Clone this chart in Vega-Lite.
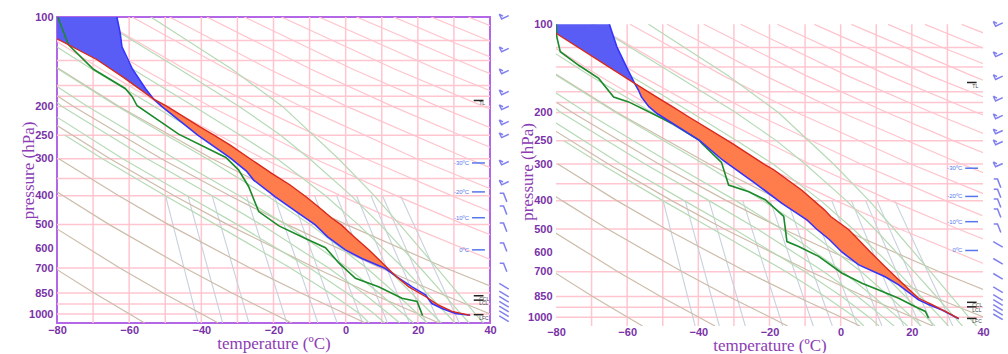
{
"$schema": "https://vega.github.io/schema/vega-lite/v6.json",
"background": "white",
"padding": {"left": 18, "top": 10, "right": 0, "bottom": 0},
"config": {
  "view": {"stroke": "#b366e6", "strokeWidth": 2},
  "axis": {"grid": false, "ticks": false, "domain": false, "labelFont": "Liberation Sans", "labelFontWeight": "bold", "labelFontSize": 11, "labelColor": "#7a32a8", "titleFont": "Liberation Serif", "titleFontWeight": "normal", "titleFontSize": 17, "titleColor": "#8c3cb4"}
},
"datasets": {
  "vgrid": [{"t":-70},{"t":-60},{"t":-50},{"t":-40},{"t":-30},{"t":-20},{"t":-10},{"t":0},{"t":10},{"t":20},{"t":30}],
  "hgrid": [{"p":120},{"p":140},{"p":170},{"p":185},{"p":200},{"p":250},{"p":300},{"p":350},{"p":400},{"p":500},{"p":700},{"p":850},{"p":925},{"p":1000}],
  "dry": [
    {"id":-60,"c":"tan","p":1072,"t":-55.7},{"id":-60,"c":"tan","p":850,"t":-69.7},{"id":-60,"c":"tan","p":700,"t":-80.7},
    {"id":-40,"c":"tan","p":1072,"t":-35.3},{"id":-40,"c":"tan","p":850,"t":-50.6},{"id":-40,"c":"tan","p":700,"t":-62.6},{"id":-40,"c":"tan","p":500,"t":-81.9},
    {"id":-20,"c":"tan","p":1072,"t":-14.9},{"id":-20,"c":"tan","p":850,"t":-31.5},{"id":-20,"c":"tan","p":700,"t":-44.5},{"id":-20,"c":"tan","p":500,"t":-65.5},{"id":-20,"c":"tan","p":400,"t":-78.3},{"id":-20,"c":"tan","p":380,"t":-81.1},
    {"id":0,"c":"tan","p":1072,"t":5.5},{"id":0,"c":"tan","p":850,"t":-12.4},{"id":0,"c":"tan","p":700,"t":-26.5},{"id":0,"c":"tan","p":500,"t":-49.1},{"id":0,"c":"tan","p":400,"t":-62.9},{"id":0,"c":"tan","p":300,"t":-79.5},
    {"id":20,"c":"tan","p":1072,"t":25.9},{"id":20,"c":"tan","p":850,"t":6.7},{"id":20,"c":"tan","p":700,"t":-8.4},{"id":20,"c":"tan","p":500,"t":-32.7},{"id":20,"c":"tan","p":400,"t":-47.5},{"id":20,"c":"tan","p":300,"t":-65.3},{"id":20,"c":"tan","p":230,"t":-80.5},
    {"id":40,"c":"tan","p":1072,"t":46.3},{"id":40,"c":"tan","p":850,"t":25.8},{"id":40,"c":"tan","p":700,"t":9.7},{"id":40,"c":"tan","p":500,"t":-16.2},{"id":40,"c":"tan","p":400,"t":-32.1},{"id":40,"c":"tan","p":300,"t":-51.1},{"id":40,"c":"tan","p":200,"t":-75.4},{"id":40,"c":"tan","p":185,"t":-79.8},
    {"id":60,"c":"tan","p":850,"t":44.9},{"id":60,"c":"tan","p":700,"t":27.7},{"id":60,"c":"tan","p":500,"t":0.2},{"id":60,"c":"tan","p":400,"t":-16.7},{"id":60,"c":"tan","p":300,"t":-37},{"id":60,"c":"tan","p":200,"t":-62.8},{"id":60,"c":"tan","p":148,"t":-80},
    {"id":80,"c":"pink","p":700,"t":45.8},{"id":80,"c":"pink","p":500,"t":16.6},{"id":80,"c":"pink","p":400,"t":-1.3},{"id":80,"c":"pink","p":300,"t":-22.8},{"id":80,"c":"pink","p":200,"t":-50.2},{"id":80,"c":"pink","p":150,"t":-67.8},{"id":80,"c":"pink","p":121,"t":-80},
    {"id":100,"c":"pink","p":600,"t":49.3},{"id":100,"c":"pink","p":500,"t":33},{"id":100,"c":"pink","p":400,"t":14.1},{"id":100,"c":"pink","p":300,"t":-8.6},{"id":100,"c":"pink","p":200,"t":-37.5},{"id":100,"c":"pink","p":150,"t":-56.1},{"id":100,"c":"pink","p":100,"t":-79.9},
    {"id":120,"c":"pink","p":450,"t":39.8},{"id":120,"c":"pink","p":400,"t":29.5},{"id":120,"c":"pink","p":300,"t":5.6},{"id":120,"c":"pink","p":200,"t":-24.9},{"id":120,"c":"pink","p":150,"t":-44.5},{"id":120,"c":"pink","p":100,"t":-69.5},
    {"id":140,"c":"pink","p":400,"t":44.9},{"id":140,"c":"pink","p":300,"t":19.7},{"id":140,"c":"pink","p":200,"t":-12.3},{"id":140,"c":"pink","p":150,"t":-32.9},{"id":140,"c":"pink","p":100,"t":-59.2},
    {"id":160,"c":"pink","p":350,"t":47.7},{"id":160,"c":"pink","p":300,"t":33.9},{"id":160,"c":"pink","p":200,"t":0.3},{"id":160,"c":"pink","p":150,"t":-21.2},{"id":160,"c":"pink","p":100,"t":-48.8},
    {"id":180,"c":"pink","p":300,"t":48.1},{"id":180,"c":"pink","p":250,"t":31.8},{"id":180,"c":"pink","p":200,"t":13},{"id":180,"c":"pink","p":150,"t":-9.6},{"id":180,"c":"pink","p":100,"t":-38.5},
    {"id":200,"c":"pink","p":250,"t":45.2},{"id":200,"c":"pink","p":200,"t":25.6},{"id":200,"c":"pink","p":150,"t":2},{"id":200,"c":"pink","p":100,"t":-28.1},
    {"id":220,"c":"pink","p":250,"t":58.7},{"id":220,"c":"pink","p":200,"t":38.2},{"id":220,"c":"pink","p":150,"t":13.7},{"id":220,"c":"pink","p":100,"t":-17.8},
    {"id":240,"c":"pink","p":200,"t":50.9},{"id":240,"c":"pink","p":150,"t":25.3},{"id":240,"c":"pink","p":100,"t":-7.4},
    {"id":260,"c":"pink","p":200,"t":63.5},{"id":260,"c":"pink","p":150,"t":37},{"id":260,"c":"pink","p":100,"t":3},
    {"id":280,"c":"pink","p":150,"t":48.6},{"id":280,"c":"pink","p":120,"t":28.6},{"id":280,"c":"pink","p":100,"t":13.3},
    {"id":300,"c":"pink","p":150,"t":60.2},{"id":300,"c":"pink","p":120,"t":39.6},{"id":300,"c":"pink","p":100,"t":23.7},
    {"id":320,"c":"pink","p":120,"t":50.5},{"id":320,"c":"pink","p":100,"t":34}
  ],
  "moist": [
    {"id":4,"p":1072,"t":6.5},{"id":4,"p":1000,"t":4},{"id":4,"p":850,"t":-4.4},{"id":4,"p":700,"t":-15.3},{"id":4,"p":500,"t":-36},{"id":4,"p":400,"t":-50},{"id":4,"p":300,"t":-67.4},{"id":4,"p":250,"t":-77.8},
    {"id":8,"p":1072,"t":10.8},{"id":8,"p":1000,"t":8},{"id":8,"p":850,"t":0.3},{"id":8,"p":700,"t":-10},{"id":8,"p":500,"t":-30},{"id":8,"p":400,"t":-44},{"id":8,"p":300,"t":-61.8},{"id":8,"p":200,"t":-84.7},
    {"id":12,"p":1072,"t":15},{"id":12,"p":1000,"t":12},{"id":12,"p":850,"t":4.8},{"id":12,"p":700,"t":-4.7},{"id":12,"p":500,"t":-23.4},{"id":12,"p":400,"t":-37},{"id":12,"p":300,"t":-55},{"id":12,"p":200,"t":-78.6},{"id":12,"p":190,"t":-81},
    {"id":16,"p":1072,"t":18.8},{"id":16,"p":1000,"t":16},{"id":16,"p":850,"t":9.2},{"id":16,"p":700,"t":0.65},{"id":16,"p":500,"t":-16.6},{"id":16,"p":400,"t":-29.5},{"id":16,"p":300,"t":-47.3},{"id":16,"p":200,"t":-71.5},{"id":16,"p":150,"t":-87.4},
    {"id":20,"p":1072,"t":22.6},{"id":20,"p":1000,"t":20},{"id":20,"p":850,"t":13.7},{"id":20,"p":700,"t":5.8},{"id":20,"p":500,"t":-9.8},{"id":20,"p":400,"t":-21.8},{"id":20,"p":300,"t":-38.4},{"id":20,"p":250,"t":-49.7},{"id":20,"p":200,"t":-63.2},{"id":20,"p":150,"t":-79.6},{"id":20,"p":130,"t":-87.4},
    {"id":24,"p":1072,"t":26.5},{"id":24,"p":1000,"t":24},{"id":24,"p":850,"t":18.2},{"id":24,"p":700,"t":11.4},{"id":24,"p":500,"t":-2.9},{"id":24,"p":400,"t":-13.3},{"id":24,"p":300,"t":-29},{"id":24,"p":250,"t":-39.6},{"id":24,"p":200,"t":-53},{"id":24,"p":150,"t":-70.3},{"id":24,"p":120,"t":-82.8},
    {"id":28,"p":1072,"t":30.3},{"id":28,"p":1000,"t":28},{"id":28,"p":850,"t":22.5},{"id":28,"p":700,"t":16},{"id":28,"p":500,"t":3.5},{"id":28,"p":400,"t":-5.6},{"id":28,"p":300,"t":-19},{"id":28,"p":250,"t":-29.2},{"id":28,"p":200,"t":-42},{"id":28,"p":150,"t":-59},{"id":28,"p":100,"t":-82.2},
    {"id":32,"p":1072,"t":34.2},{"id":32,"p":1000,"t":32},{"id":32,"p":850,"t":26.9},{"id":32,"p":700,"t":20.7},{"id":32,"p":500,"t":9.6},{"id":32,"p":400,"t":1.6},{"id":32,"p":300,"t":-10},{"id":32,"p":250,"t":-18},{"id":32,"p":200,"t":-29.5},{"id":32,"p":150,"t":-46},{"id":32,"p":100,"t":-69.7},
    {"id":36,"p":1072,"t":38.2},{"id":36,"p":1000,"t":36},{"id":36,"p":850,"t":31.1},{"id":36,"p":700,"t":25.3},{"id":36,"p":500,"t":15},{"id":36,"p":400,"t":8},{"id":36,"p":300,"t":-2},{"id":36,"p":200,"t":-17.5},{"id":36,"p":150,"t":-31.5},{"id":36,"p":100,"t":-54}
  ],
  "mix": [
    {"id":0.1,"p":400,"t":-49.9},{"id":0.1,"p":1072,"t":-40.9},
    {"id":0.2,"p":400,"t":-43.7},{"id":0.2,"p":1072,"t":-34.1},
    {"id":0.4,"p":400,"t":-37},{"id":0.4,"p":1072,"t":-26.8},
    {"id":1,"p":400,"t":-27.5},{"id":1,"p":1072,"t":-16.3},
    {"id":2,"p":400,"t":-19.8},{"id":2,"p":1072,"t":-7.7},
    {"id":3,"p":400,"t":-15},{"id":3,"p":1072,"t":-2.35},
    {"id":5,"p":400,"t":-8.6},{"id":5,"p":1072,"t":4.7},
    {"id":8,"p":400,"t":-2.5},{"id":8,"p":1072,"t":11.6},
    {"id":12,"p":400,"t":3},{"id":12,"p":1072,"t":17.7},
    {"id":16,"p":400,"t":7},{"id":16,"p":1072,"t":22.3},
    {"id":20,"p":400,"t":10.2},{"id":20,"p":1072,"t":25.9},
    {"id":28,"p":400,"t":15.2},{"id":28,"p":1072,"t":31.5}
  ],
  "envA": [{"p":100,"t":-63.4},{"p":113,"t":-62.5},{"p":126,"t":-62},{"p":149,"t":-59.2},{"p":174,"t":-55.5},{"p":189,"t":-53.2},{"p":200,"t":-51},{"p":250,"t":-41},{"p":298,"t":-32},{"p":330,"t":-27.5},{"p":354,"t":-25.5},{"p":403,"t":-19.5},{"p":458,"t":-13},{"p":500,"t":-8.5},{"p":550,"t":-5},{"p":608,"t":-0.1},{"p":650,"t":4.5},{"p":703,"t":11},{"p":750,"t":14.2},{"p":810,"t":18.4},{"p":862,"t":22.1},{"p":922,"t":23.9},{"p":958,"t":26.7},{"p":996,"t":30.4},{"p":1010,"t":34.5}],
  "parA": [{"p":118.4,"t":-80},{"p":139,"t":-69},{"p":160,"t":-61.5},{"p":189,"t":-53.2},{"p":200,"t":-49.5},{"p":234,"t":-40.5},{"p":250,"t":-36.5},{"p":270,"t":-32},{"p":300,"t":-26.5},{"p":336,"t":-20.5},{"p":367,"t":-15.5},{"p":403,"t":-11},{"p":436,"t":-7.5},{"p":476,"t":-3.8},{"p":500,"t":-1.3},{"p":550,"t":2.4},{"p":608,"t":6.4},{"p":650,"t":8.9},{"p":703,"t":11.7},{"p":750,"t":14.2},{"p":810,"t":17.5},{"p":873,"t":22.1},{"p":934,"t":25.8},{"p":980,"t":29.5},{"p":1010,"t":34.5}],
  "dewA": [{"p":100,"t":-79.8},{"p":124,"t":-76.8},{"p":150,"t":-69.9},{"p":174,"t":-61.1},{"p":185,"t":-59.2},{"p":199,"t":-57.8},{"p":248,"t":-46.3},{"p":297,"t":-33.2},{"p":327,"t":-29.7},{"p":372,"t":-26.9},{"p":452,"t":-24.1},{"p":505,"t":-18.5},{"p":558,"t":-11},{"p":598,"t":-5.6},{"p":673,"t":-1.9},{"p":758,"t":2.7},{"p":810,"t":9.1},{"p":885,"t":15.6},{"p":907,"t":19.8},{"p":1011,"t":21.3}],
  "orA": [{"s":1,"p":1010,"t":34.5,"t2":34.5},{"s":1,"p":996,"t":30.4,"t2":32.2},{"s":1,"p":980,"t":28.8,"t2":29.5},{"s":1,"p":958,"t":26.7,"t2":27.7},{"s":1,"p":934,"t":24.8,"t2":25.8},{"s":1,"p":900,"t":23.2,"t2":23.7},{"s":1,"p":880,"t":22.5,"t2":22.5},
    {"s":2,"p":750,"t":14.2,"t2":14.2},{"s":2,"p":703,"t":11,"t2":11.7},{"s":2,"p":650,"t":4.5,"t2":8.9},{"s":2,"p":608,"t":-0.1,"t2":6.4},{"s":2,"p":550,"t":-5,"t2":2.4},{"s":2,"p":500,"t":-8.5,"t2":-1.3},{"s":2,"p":476,"t":-11,"t2":-3.8},{"s":2,"p":458,"t":-13,"t2":-5.3},{"s":2,"p":436,"t":-15.5,"t2":-7.5},{"s":2,"p":403,"t":-19.5,"t2":-11},{"s":2,"p":367,"t":-23.8,"t2":-15.5},{"s":2,"p":354,"t":-25.5,"t2":-17.5},{"s":2,"p":336,"t":-27,"t2":-20.5},{"s":2,"p":300,"t":-31.7,"t2":-26.5},{"s":2,"p":270,"t":-37,"t2":-32},{"s":2,"p":250,"t":-41,"t2":-36.5},{"s":2,"p":234,"t":-44,"t2":-40.5},{"s":2,"p":200,"t":-51,"t2":-49.5},{"s":2,"p":189,"t":-53.2,"t2":-53.2}],
  "blA": [{"p":100,"t":-63.4,"t2":-80},{"p":113,"t":-62.5,"t2":-80},{"p":118.4,"t":-62.3,"t2":-80},{"p":126,"t":-62,"t2":-75.7},{"p":139,"t":-60.6,"t2":-69},{"p":149,"t":-59.2,"t2":-65.3},{"p":160,"t":-57.6,"t2":-61.5},{"p":174,"t":-55.5,"t2":-57.3},{"p":189,"t":-53.2,"t2":-53.2}],
  "envB": [{"p":100,"t":-65},{"p":119.3,"t":-62.9},{"p":141.3,"t":-60},{"p":159,"t":-57.9},{"p":168,"t":-56.8},{"p":177,"t":-56},{"p":191,"t":-53.9},{"p":202,"t":-51.5},{"p":250,"t":-39.5},{"p":290,"t":-33.3},{"p":349,"t":-24},{"p":409,"t":-16.5},{"p":465,"t":-9.5},{"p":500,"t":-6.8},{"p":543,"t":-3.2},{"p":600,"t":0.4},{"p":663,"t":5.1},{"p":728,"t":12.5},{"p":776,"t":16.3},{"p":873,"t":21.9},{"p":906,"t":24.7},{"p":945,"t":28.5},{"p":1012,"t":33.2}],
  "parB": [{"p":107.3,"t":-80},{"p":159,"t":-57.9},{"p":177,"t":-51.8},{"p":191,"t":-47.3},{"p":206,"t":-43},{"p":255,"t":-30.5},{"p":302,"t":-21.2},{"p":314,"t":-18.8},{"p":368,"t":-11},{"p":431,"t":-4.5},{"p":453,"t":-2.8},{"p":503,"t":2.3},{"p":600,"t":8.4},{"p":673,"t":12.5},{"p":745,"t":16.3},{"p":800,"t":19},{"p":862,"t":21.9},{"p":906,"t":25.7},{"p":956,"t":29.4},{"p":1012,"t":33.2}],
  "dewB": [{"p":100,"t":-80},{"p":110,"t":-79.8},{"p":124,"t":-78.8},{"p":138,"t":-73.6},{"p":153,"t":-68},{"p":177,"t":-63.8},{"p":184,"t":-59.6},{"p":204,"t":-52.1},{"p":218,"t":-47.4},{"p":248,"t":-39.9},{"p":255,"t":-39},{"p":296,"t":-33.5},{"p":354,"t":-31.5},{"p":373,"t":-25.8},{"p":397,"t":-21.2},{"p":453,"t":-16},{"p":552,"t":-15.1},{"p":574,"t":-11.8},{"p":620,"t":-6.2},{"p":708,"t":0.4},{"p":766,"t":6},{"p":808,"t":10.7},{"p":862,"t":16.3},{"p":921,"t":21},{"p":956,"t":23.8},{"p":1008,"t":24.7}],
  "orB": [{"p":1012,"t":33.2,"t2":33.2},{"p":956,"t":29.3,"t2":29.4},{"p":906,"t":24.7,"t2":25.7},{"p":873,"t":21.9,"t2":22.4},{"p":862,"t":21.4,"t2":21.9},{"p":800,"t":17.8,"t2":19},{"p":745,"t":14,"t2":16.3},{"p":673,"t":6.2,"t2":12.5},{"p":600,"t":0.4,"t2":8.4},{"p":543,"t":-3.2,"t2":4.9},{"p":503,"t":-6.6,"t2":2.3},{"p":453,"t":-11,"t2":-2.8},{"p":409,"t":-16.5,"t2":-6.7},{"p":368,"t":-21.5,"t2":-11},{"p":349,"t":-24,"t2":-13.6},{"p":302,"t":-31.3,"t2":-21.2},{"p":290,"t":-33.3,"t2":-23.4},{"p":255,"t":-38.7,"t2":-30.5},{"p":250,"t":-39.5,"t2":-31.6},{"p":206,"t":-50.4,"t2":-43},{"p":202,"t":-51.5,"t2":-44},{"p":191,"t":-53.9,"t2":-47.3},{"p":177,"t":-56,"t2":-51.8},{"p":168,"t":-56.8,"t2":-54.8},{"p":159,"t":-57.9,"t2":-57.9}],
  "blB": [{"p":100,"t":-65,"t2":-80},{"p":107.3,"t":-64.2,"t2":-80},{"p":119.3,"t":-62.9,"t2":-74},{"p":141.3,"t":-60,"t2":-64.5},{"p":159,"t":-57.9,"t2":-57.9}],
  "barbA": [{"p":100,"k":"v"},{"p":129,"k":"v"},{"p":153,"k":"v"},{"p":180,"k":"v"},{"p":202,"k":"v"},{"p":227,"k":"v"},{"p":251,"k":"v"},{"p":310,"k":"v"},{"p":362,"k":"v"},{"p":404,"k":"g"},{"p":446,"k":"g"},{"p":509,"k":"g"},{"p":594,"k":"g"},{"p":695,"k":"g"},{"p":800,"k":"f"},{"p":850,"k":"f"},{"p":885,"k":"f"},{"p":920,"k":"f"},{"p":955,"k":"f"},{"p":990,"k":"f"},{"p":1030,"k":"f"}],
  "barbB": [{"p":100,"k":"v"},{"p":127,"k":"v"},{"p":152,"k":"v"},{"p":180,"k":"v"},{"p":207,"k":"v"},{"p":233,"k":"v"},{"p":254,"k":"v"},{"p":302,"k":"v"},{"p":348,"k":"g"},{"p":377,"k":"g"},{"p":407,"k":"g"},{"p":440,"k":"g"},{"p":495,"k":"g"},{"p":560,"k":"f"},{"p":640,"k":"f"},{"p":720,"k":"f"},{"p":800,"k":"f"},{"p":850,"k":"f"},{"p":885,"k":"f"},{"p":920,"k":"f"},{"p":955,"k":"f"},{"p":990,"k":"f"}],
  "isoA": [{"p":310,"label":"-30ºC"},{"p":388,"label":"-20ºC"},{"p":474,"label":"-10ºC"},{"p":608,"label":"0ºC"}],
  "isoB": [{"p":310,"label":"-30ºC"},{"p":387,"label":"-20ºC"},{"p":472,"label":"-10ºC"},{"p":592,"label":"0ºC"}],
  "lvlA": [{"p":191,"label":"TL"},{"p":868,"label":"CCL"},{"p":898,"label":"LCL"},{"p":1005,"label":"LFC"}],
  "lvlB": [{"p":158,"label":"TL"},{"p":890,"label":"CCL"},{"p":922,"label":"LCL"},{"p":1010,"label":"LFC"}]
},
"bounds": "flush",
"spacing": 21,
"hconcat": [
  {"width": 433, "height": 306, "layer": [
   {"data": {"name": "hgrid"}, "mark": {"type": "rule", "color": "#ffc6d0", "strokeWidth": 1.5}, "encoding": {"y": {"field": "p", "type": "quantitative", "scale": {"type": "log", "domain": [100, 1072], "reverse": true, "nice": false}, "axis": {"values": [100,200,250,300,400,500,600,700,850,925,1000], "format": "d", "title": "pressure (hPa)", "labelPadding": 4, "titleX": -20}}}},
   {"data": {"name": "vgrid"}, "mark": {"type": "rule", "color": "#ffc6d0", "strokeWidth": 1.5}, "encoding": {"x": {"field": "t", "type": "quantitative", "scale": {"domain": [-80, 40], "nice": false, "zero": false}, "axis": {"values": [-80,-70,-60,-50,-40,-30,-20,-10,0,10,20,30,40], "title": "temperature  (ºC)", "labelFlush": false, "labelPadding": 1, "titleFontSize": 17, "titleBaseline": "alphabetic", "titleY": 25}}}},
   {"data": {"name": "mix"}, "mark": {"type": "line", "color": "#c8d1dc", "strokeWidth": 1.1, "clip": true}, "encoding": {"x": {"field": "t", "type": "quantitative"}, "y": {"field": "p", "type": "quantitative"}, "detail": {"field": "id"}, "order": {"field": "p", "type": "quantitative"}}},
   {"data": {"name": "dry"}, "mark": {"type": "line", "strokeWidth": 1.2, "clip": true}, "encoding": {"x": {"field": "t", "type": "quantitative"}, "y": {"field": "p", "type": "quantitative"}, "detail": {"field": "id"}, "color": {"field": "c", "type": "nominal", "scale": {"domain": ["tan", "pink"], "range": ["#cdbcaa", "#ffc4cd"]}, "legend": null}, "order": {"field": "p", "type": "quantitative"}}},
   {"data": {"name": "moist"}, "mark": {"type": "line", "color": "#b6dab6", "strokeWidth": 1.2, "clip": true}, "encoding": {"x": {"field": "t", "type": "quantitative"}, "y": {"field": "p", "type": "quantitative"}, "detail": {"field": "id"}, "order": {"field": "p", "type": "quantitative"}}},
   {"data": {"name": "orA"}, "mark": {"type": "area", "orient": "horizontal", "color": "#ff7c4c", "opacity": 1, "clip": true}, "encoding": {"x": {"field": "t", "type": "quantitative"}, "x2": {"field": "t2"}, "y": {"field": "p", "type": "quantitative"}, "detail": {"field": "s"}}},
   {"data": {"name": "blA"}, "mark": {"type": "area", "orient": "horizontal", "color": "#5a5cf6", "opacity": 1, "clip": true}, "encoding": {"x": {"field": "t", "type": "quantitative"}, "x2": {"field": "t2"}, "y": {"field": "p", "type": "quantitative"}}},
   {"mark": {"type": "rule", "color": "#3a3a3a", "strokeWidth": 2}, "encoding": {"y": {"datum": 600, "type": "quantitative"}}},
   {"data": {"name": "dewA"}, "mark": {"type": "line", "color": "#1a8a2a", "strokeWidth": 1.6, "clip": true}, "encoding": {"x": {"field": "t", "type": "quantitative"}, "y": {"field": "p", "type": "quantitative"}, "order": {"field": "p", "type": "quantitative"}}},
   {"data": {"name": "envA"}, "mark": {"type": "line", "color": "#3434ff", "strokeWidth": 1.6, "clip": true}, "encoding": {"x": {"field": "t", "type": "quantitative"}, "y": {"field": "p", "type": "quantitative"}, "order": {"field": "p", "type": "quantitative"}}},
   {"data": {"name": "parA"}, "mark": {"type": "line", "color": "#d8281a", "strokeWidth": 1.4, "clip": true}, "encoding": {"x": {"field": "t", "type": "quantitative"}, "y": {"field": "p", "type": "quantitative"}, "order": {"field": "p", "type": "quantitative"}}},
   {"data": {"name": "isoA"}, "mark": {"type": "text", "align": "right", "font": "Liberation Sans", "fontSize": 6, "color": "#5577ee", "dx": -1}, "encoding": {"x": {"datum": 34.5}, "y": {"field": "p", "type": "quantitative"}, "text": {"field": "label"}}},
   {"data": {"name": "isoA"}, "mark": {"type": "rule", "color": "#5577ee", "strokeWidth": 1.5}, "encoding": {"x": {"datum": 35}, "x2": {"datum": 38.6}, "y": {"field": "p", "type": "quantitative"}}},
   {"data": {"name": "lvlA"}, "mark": {"type": "rule", "color": "#222222", "strokeWidth": 1.5}, "encoding": {"x": {"datum": 35.5}, "x2": {"datum": 38.2}, "y": {"field": "p", "type": "quantitative"}}},
   {"data": {"name": "lvlA"}, "mark": {"type": "text", "align": "left", "baseline": "top", "font": "Liberation Sans", "fontSize": 5, "color": "#444444", "dy": 1}, "encoding": {"x": {"datum": 37}, "y": {"field": "p", "type": "quantitative"}, "text": {"field": "label"}}},
   {"mark": {"type": "rect", "fill": "white", "stroke": "#7d3cb0", "strokeWidth": 1.5}, "encoding": {"x": {"datum": 29}, "x2": {"datum": 40}, "y": {"datum": 100}, "y2": {"datum": 129}}},
   {"mark": {"type": "text", "text": "(a)", "font": "Liberation Sans", "fontSize": 13, "color": "#222222"}, "encoding": {"x": {"datum": 34.6}, "y": {"datum": 113.5}}}
  ]},
  {"width": 24, "height": 306, "view": {"stroke": null}, "layer": [
   {"mark": {"type": "rule", "color": "#b366e6", "strokeWidth": 2}, "encoding": {"x": {"datum": 0, "type": "quantitative", "scale": {"domain": [0, 24]}, "axis": null}, "y": {"datum": 100, "type": "quantitative", "scale": {"type": "log", "domain": [100, 1072], "reverse": true, "nice": false}, "axis": null}, "y2": {"datum": 1140}}},
   {"data": {"name": "barbA"}, "mark": {"type": "point", "color": "#4b4bea", "strokeWidth": 1.5, "size": 90}, "encoding": {"x": {"datum": -7, "type": "quantitative"}, "y": {"field": "p", "type": "quantitative"}, "shape": {"field": "k", "type": "nominal", "legend": null, "scale": {"domain": ["v", "g", "f"], "range": ["M-1,-0.6L-0.5,0.4L1,-0.3M-1,-0.6L-0.2,-0.2", "M0.6,1L-0.1,-0.8L-0.9,-0.8", "M1,0.8L-1,-0.4"]}}}}
  ]},
  {"width": 427, "height": 309, "view": {"stroke": null}, "layer": [
    {"data": {"name": "hgrid"}, "mark": {"type": "rule", "color": "#ffc6d0", "strokeWidth": 1.5}, "encoding": {"y": {"field": "p", "type": "quantitative", "scale": {"type": "log", "domain": [94.4, 1072], "reverse": true, "nice": false}, "axis": {"values": [100,200,250,300,400,500,600,700,850,925,1000], "format": "d", "title": "pressure (hPa)", "labelPadding": 4, "titleX": -20}}}},
    {"data": {"name": "vgrid"}, "mark": {"type": "rule", "color": "#ffc6d0", "strokeWidth": 1.5}, "encoding": {"x": {"field": "t", "type": "quantitative", "scale": {"domain": [-80, 40], "nice": false, "zero": false}, "axis": {"values": [-80,-70,-60,-50,-40,-30,-20,-10,0,10,20,30,40], "title": "temperature  (ºC)", "labelFlush": false, "labelPadding": 0, "titleFontSize": 17, "titleBaseline": "alphabetic", "titleY": 24}}, "y": {"datum": 100, "type": "quantitative"}, "y2": {"datum": 1072}}},
    {"data": {"name": "mix"}, "mark": {"type": "line", "color": "#c8d1dc", "strokeWidth": 1.1, "clip": true}, "encoding": {"x": {"field": "t", "type": "quantitative"}, "y": {"field": "p", "type": "quantitative"}, "detail": {"field": "id"}, "order": {"field": "p", "type": "quantitative"}}},
    {"data": {"name": "dry"}, "mark": {"type": "line", "strokeWidth": 1.2, "clip": true}, "encoding": {"x": {"field": "t", "type": "quantitative"}, "y": {"field": "p", "type": "quantitative"}, "detail": {"field": "id"}, "color": {"field": "c", "type": "nominal", "scale": {"domain": ["tan", "pink"], "range": ["#cdbcaa", "#ffc4cd"]}, "legend": null}, "order": {"field": "p", "type": "quantitative"}}},
    {"data": {"name": "moist"}, "mark": {"type": "line", "color": "#b6dab6", "strokeWidth": 1.2, "clip": true}, "encoding": {"x": {"field": "t", "type": "quantitative"}, "y": {"field": "p", "type": "quantitative"}, "detail": {"field": "id"}, "order": {"field": "p", "type": "quantitative"}}},
    {"data": {"name": "orB"}, "mark": {"type": "area", "orient": "horizontal", "color": "#ff7c4c", "opacity": 1, "clip": true}, "encoding": {"x": {"field": "t", "type": "quantitative"}, "x2": {"field": "t2"}, "y": {"field": "p", "type": "quantitative"}}},
    {"data": {"name": "blB"}, "mark": {"type": "area", "orient": "horizontal", "color": "#5a5cf6", "opacity": 1, "clip": true}, "encoding": {"x": {"field": "t", "type": "quantitative"}, "x2": {"field": "t2"}, "y": {"field": "p", "type": "quantitative"}}},
    {"mark": {"type": "rule", "color": "#3a3a3a", "strokeWidth": 2}, "encoding": {"y": {"datum": 600, "type": "quantitative"}}},
    {"data": {"name": "dewB"}, "mark": {"type": "line", "color": "#1a8a2a", "strokeWidth": 1.6, "clip": true}, "encoding": {"x": {"field": "t", "type": "quantitative"}, "y": {"field": "p", "type": "quantitative"}, "order": {"field": "p", "type": "quantitative"}}},
    {"data": {"name": "envB"}, "mark": {"type": "line", "color": "#3434ff", "strokeWidth": 1.6, "clip": true}, "encoding": {"x": {"field": "t", "type": "quantitative"}, "y": {"field": "p", "type": "quantitative"}, "order": {"field": "p", "type": "quantitative"}}},
    {"data": {"name": "parB"}, "mark": {"type": "line", "color": "#d8281a", "strokeWidth": 1.4, "clip": true}, "encoding": {"x": {"field": "t", "type": "quantitative"}, "y": {"field": "p", "type": "quantitative"}, "order": {"field": "p", "type": "quantitative"}}},
    {"data": {"name": "isoB"}, "mark": {"type": "text", "align": "right", "font": "Liberation Sans", "fontSize": 6, "color": "#5577ee", "dx": -1}, "encoding": {"x": {"datum": 34.5}, "y": {"field": "p", "type": "quantitative"}, "text": {"field": "label"}}},
    {"data": {"name": "isoB"}, "mark": {"type": "rule", "color": "#5577ee", "strokeWidth": 1.5}, "encoding": {"x": {"datum": 35}, "x2": {"datum": 38.6}, "y": {"field": "p", "type": "quantitative"}}},
    {"data": {"name": "lvlB"}, "mark": {"type": "rule", "color": "#222222", "strokeWidth": 1.5}, "encoding": {"x": {"datum": 35.5}, "x2": {"datum": 38.2}, "y": {"field": "p", "type": "quantitative"}}},
    {"data": {"name": "lvlB"}, "mark": {"type": "text", "align": "left", "baseline": "top", "font": "Liberation Sans", "fontSize": 5, "color": "#444444", "dy": 1}, "encoding": {"x": {"datum": 37}, "y": {"field": "p", "type": "quantitative"}, "text": {"field": "label"}}},
    {"mark": {"type": "rule", "color": "#b366e6", "strokeWidth": 2}, "encoding": {"y": {"datum": 100, "type": "quantitative"}}},
    {"mark": {"type": "rule", "color": "#b366e6", "strokeWidth": 2}, "encoding": {"y": {"datum": 1072, "type": "quantitative"}}},
    {"mark": {"type": "rule", "color": "#b366e6", "strokeWidth": 2}, "encoding": {"x": {"datum": -80, "type": "quantitative"}, "y": {"datum": 100, "type": "quantitative"}, "y2": {"datum": 1072}}},
    {"mark": {"type": "rule", "color": "#b366e6", "strokeWidth": 2}, "encoding": {"x": {"datum": 40, "type": "quantitative"}, "y": {"datum": 100, "type": "quantitative"}, "y2": {"datum": 1072}}},
    {"mark": {"type": "rect", "fill": "white", "stroke": "#7d3cb0", "strokeWidth": 1.5}, "encoding": {"x": {"datum": 29.3}, "x2": {"datum": 40}, "y": {"datum": 100}, "y2": {"datum": 129}}},
    {"mark": {"type": "text", "text": "(b)", "font": "Liberation Sans", "fontSize": 13, "color": "#222222"}, "encoding": {"x": {"datum": 34.7}, "y": {"datum": 113.5}}}
  ]},
  {"width": 5, "height": 309, "view": {"stroke": null}, "layer": [
   {"mark": {"type": "rule", "color": "#b366e6", "strokeWidth": 2}, "encoding": {"x": {"datum": 0, "type": "quantitative", "scale": {"domain": [0, 5]}, "axis": null}, "y": {"datum": 100, "type": "quantitative", "scale": {"type": "log", "domain": [94.4, 1072], "reverse": true, "nice": false}, "axis": null}, "y2": {"datum": 1000}}},
   {"data": {"name": "barbB"}, "mark": {"type": "point", "color": "#4b4bea", "strokeWidth": 1.5, "size": 90}, "encoding": {"x": {"datum": -6, "type": "quantitative"}, "y": {"field": "p", "type": "quantitative"}, "shape": {"field": "k", "type": "nominal", "legend": null, "scale": {"domain": ["v", "g", "f"], "range": ["M-1,-0.6L-0.5,0.4L1,-0.3M-1,-0.6L-0.2,-0.2", "M0.6,1L-0.1,-0.8L-0.9,-0.8", "M1,0.8L-1,-0.4"]}}}}
  ]}
]
}
